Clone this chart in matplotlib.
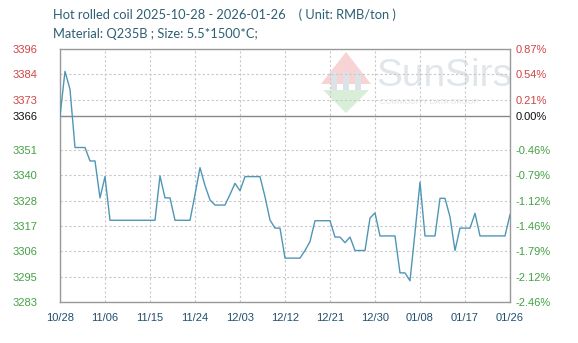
import matplotlib
matplotlib.use("Agg")
import matplotlib.pyplot as plt
from matplotlib.patches import Polygon
import numpy as np
import pandas as pd

# ---- data ----
start_date = "2025-10-28"
prices = [3366, 3386, 3378, 3352, 3352, 3352, 3346, 3346, 3329.5, 3339,
          3319.5, 3319.5, 3319.5, 3319.5, 3319.5, 3319.5, 3319.5, 3319.5, 3319.5, 3319.5,
          3339.3, 3329.5, 3329.5, 3319.5, 3319.5, 3319.5, 3319.5, 3331, 3343, 3335,
          3328.6, 3326.3, 3326.3, 3326.3, 3331, 3336, 3332.7, 3339, 3339, 3339,
          3339, 3330, 3319.6, 3316, 3316, 3302.6, 3302.6, 3302.6, 3302.6, 3306,
          3310, 3319.3, 3319.3, 3319.3, 3319.3, 3312, 3312, 3309.5, 3312, 3306,
          3306, 3306, 3320.5, 3322.8, 3312.5, 3312.5, 3312.5, 3312.5, 3296, 3296,
          3292.5, 3314, 3336.5, 3312.5, 3312.5, 3312.5, 3329.3, 3329.3, 3321, 3306,
          3316, 3316, 3316, 3322.6, 3312.5, 3312.5, 3312.5, 3312.5, 3312.5, 3312.5,
          3322]
base_price = 3366
y_tick_values = [3283, 3294.3, 3305.6, 3316.9, 3328.2, 3339.5, 3350.8, 3366, 3373.4, 3384.7, 3396]
y_tick_labels = ["3283", "3295", "3306", "3317", "3328", "3340", "3351", "3366", "3373", "3384", "3396"]
pct_labels = ["-2.46%", "-2.12%", "-1.79%", "-1.46%", "-1.12%", "-0.79%", "-0.46%", "0.00%", "0.21%", "0.54%", "0.87%"]
x_tick_labels = ["10/28", "11/06", "11/15", "11/24", "12/03", "12/12", "12/21", "12/30", "01/08", "01/17", "01/26"]
title1 = "Hot rolled coil 2025-10-28 - 2026-01-26    ( Unit: RMB/ton )"
title2 = "Material: Q235B ; Size: 5.5*1500*C;"

dates = pd.date_range(start_date, periods=len(prices), freq="D")
x_ticks = pd.date_range(start_date, periods=len(x_tick_labels), freq="9D")

W, H = 578, 343
fig = plt.figure(figsize=(W / 100, H / 100), dpi=100)
L, R, T, B = 60, 510, 49, 302
ax = fig.add_axes([L / W, 1 - B / H, (R - L) / W, (B - T) / H])

# watermark
wm = fig.add_axes([0, 0, 1, 1], zorder=0)
wm.set_xlim(0, W); wm.set_ylim(H, 0); wm.axis("off")
cx, cy = 346, 84
wm.add_patch(Polygon([[cx - 25, cy], [cx, cy - 32], [cx + 25, cy]], closed=True,
                     facecolor="#f7d3d3", edgecolor="none"))
wm.add_patch(Polygon([[cx - 23, cy + 6], [cx, cy + 29], [cx + 23, cy + 6]], closed=True,
                     facecolor="#d8eed8", edgecolor="none"))
for dx in (-12, 0, 12):
    wm.add_patch(Polygon([[cx + dx - 3, cy - 12], [cx + dx + 3, cy - 12], [cx + dx + 3, cy + 6], [cx + dx - 3, cy + 6]],
                         closed=True, facecolor="#dde1e8", edgecolor="none"))
wm.text(376, 76, "SunSirs", fontsize=28, color="#e1e6eb", ha="left", va="center", family="Liberation Sans")
wm.text(380, 102, "COMMODITY DATA GROUP", fontsize=5.5, color="#e4e4e4", ha="left", va="center", family="Liberation Sans")
ax.set_zorder(1)
ax.patch.set_alpha(0)

ax.plot(dates, prices, color="#4f96b6", lw=1.0, zorder=3)
ax.axhline(base_price, color="#888888", lw=1.0, zorder=2)

ax.set_ylim(3283, 3396)
ax.set_xlim(dates[0], dates[-1])
ax.set_yticks(y_tick_values)
ax.set_yticklabels(y_tick_labels)
ax.set_xticks(x_ticks)
ax.set_xticklabels(x_tick_labels)

def colorize(labels):
    for v, lab in zip(y_tick_values, labels):
        lab.set_family("Liberation Sans")
        if v > base_price + 0.01:
            lab.set_color("#d04444")
        elif abs(v - base_price) < 0.01:
            lab.set_color("#111111")
        else:
            lab.set_color("#44a044")

colorize(ax.get_yticklabels())

ax.grid(True, color="#c8c8c8", linestyle=(0, (2, 2)), lw=0.8)
ax.yaxis.get_gridlines()[7].set_visible(False)
for s in ax.spines.values():
    s.set_color("#999999")
    s.set_linewidth(1.0)
ax.tick_params(axis="y", length=0, pad=16, labelsize=8)
ax.tick_params(axis="x", length=0, pad=8, labelsize=8, labelcolor="#1f4e6e")
for lab in ax.get_xticklabels():
    lab.set_family("Liberation Sans")

ax2 = ax.twinx()
ax2.set_ylim(ax.get_ylim())
ax2.set_yticks(y_tick_values)
ax2.set_yticklabels(pct_labels)
ax2.tick_params(axis="y", length=0, pad=4, labelsize=8)
colorize(ax2.get_yticklabels())
for s in ax2.spines.values():
    s.set_visible(False)

fig.text(53 / W, 1 - 15 / H, title1, fontsize=9.3, color="#2d5f73", ha="left", va="center", family="Lato")
fig.text(53 / W, 1 - 34 / H, title2, fontsize=9.3, color="#2d5f73", ha="left", va="center", family="Lato")

fig.savefig("out.png", dpi=100)
